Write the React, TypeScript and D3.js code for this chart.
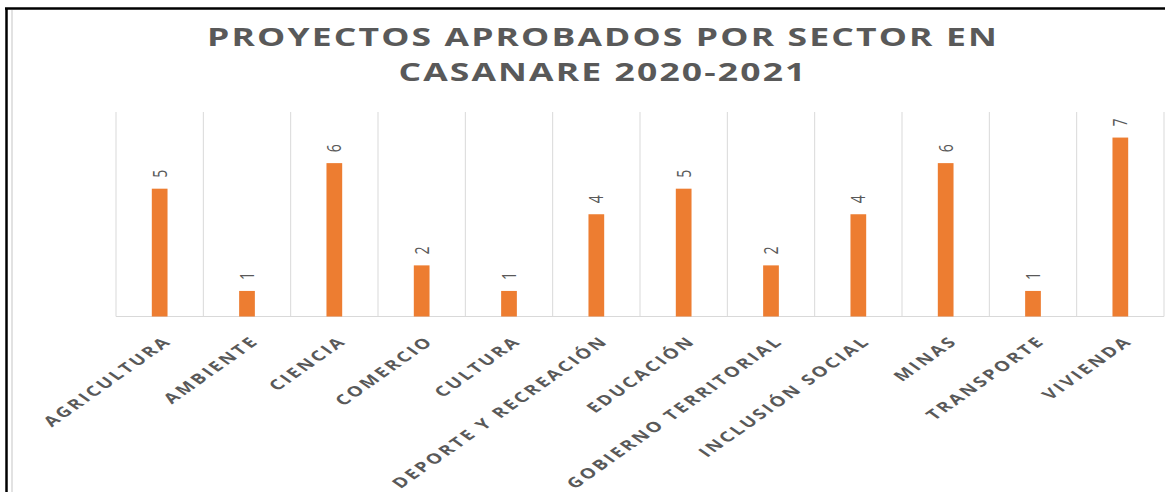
import React from "react";
import * as d3 from "d3";

const categories = [
  "AGRICULTURA",
  "AMBIENTE",
  "CIENCIA",
  "COMERCIO",
  "CULTURA",
  "DEPORTE Y RECREACIÓN",
  "EDUCACIÓN",
  "GOBIERNO TERRITORIAL",
  "INCLUSIÓN SOCIAL",
  "MINAS",
  "TRANSPORTE",
  "VIVIENDA",
];
const values = [5, 1, 6, 2, 1, 4, 5, 2, 4, 6, 1, 7];
const titleLines = ["PROYECTOS APROBADOS POR SECTOR EN", "CASANARE 2020-2021"];

const W = 1165;
const H = 492;
const STRETCH = 1.42;
const FONT = "'Open Sans', 'Noto Sans', sans-serif";

export default function App() {
  const x = d3.scaleBand<string>().domain(categories).range([116, 1164]).padding(0);
  const y = d3.scaleLinear().domain([0, 8]).range([316.5, 112]);
  const bw = x.bandwidth() * 0.18;
  const gridXs = categories.map((c) => x(c) as number).concat([x.range()[1]]);

  return (
    <svg
      width={W}
      height={H}
      style={{ position: "absolute", left: 0, top: 0, background: "#fff" }}
      fontFamily={FONT}
    >
      <rect x={0} y={0} width={W} height={H} fill="#fff" />
      {/* frame */}
      <line x1={5} x2={W} y1={8.5} y2={8.5} stroke="#000" strokeWidth={2.5} />
      <line x1={6.5} x2={6.5} y1={8} y2={H} stroke="#000" strokeWidth={2.5} />
      <line x1={12} x2={12} y1={10} y2={H} stroke="#d9d9d9" strokeWidth={1.5} />

      {/* title */}
      {titleLines.map((t, i) => (
        <text
          key={i}
          transform={`translate(603, ${45.5 + i * 35.5}) scale(${STRETCH},1)`}
          textAnchor="middle"
          fontSize={25}
          fontWeight={700}
          fill="#595959"
          letterSpacing={1.5}
        >
          {t}
        </text>
      ))}

      {/* gridlines */}
      {gridXs.map((gx, i) => (
        <line key={i} x1={gx} x2={gx} y1={y(8)} y2={y(0)} stroke="#d9d9d9" strokeWidth={1} />
      ))}
      <line x1={x.range()[0]} x2={x.range()[1]} y1={y(0)} y2={y(0)} stroke="#d9d9d9" strokeWidth={1.2} />

      {/* bars */}
      {categories.map((c, i) => {
        const cx = (x(c) as number) + x.bandwidth() / 2;
        return (
          <rect
            key={c}
            x={cx - bw / 2}
            y={y(values[i])}
            width={bw}
            height={y(0) - y(values[i])}
            fill="#ED7D31"
          />
        );
      })}

      {/* value labels */}
      {categories.map((c, i) => {
        const cx = (x(c) as number) + x.bandwidth() / 2;
        return (
          <text
            key={c}
            transform={`translate(${cx}, ${y(values[i]) - 11}) scale(${STRETCH},1) rotate(-90)`}
            dy="0.35em"
            textAnchor="start"
            fontSize={14}
            fill="#595959"
          >
            {values[i]}
          </text>
        );
      })}

      {/* category labels */}
      {categories.map((c) => {
        const cx = (x(c) as number) + x.bandwidth() / 2;
        return (
          <text
            key={c}
            transform={`translate(${cx + 3}, 335) scale(${STRETCH},1) rotate(-45)`}
            dy="0.72em"
            textAnchor="end"
            fontSize={14}
            fontWeight={700}
            fill="#595959"
            letterSpacing={2.0}
          >
            {c}
          </text>
        );
      })}
    </svg>
  );
}
